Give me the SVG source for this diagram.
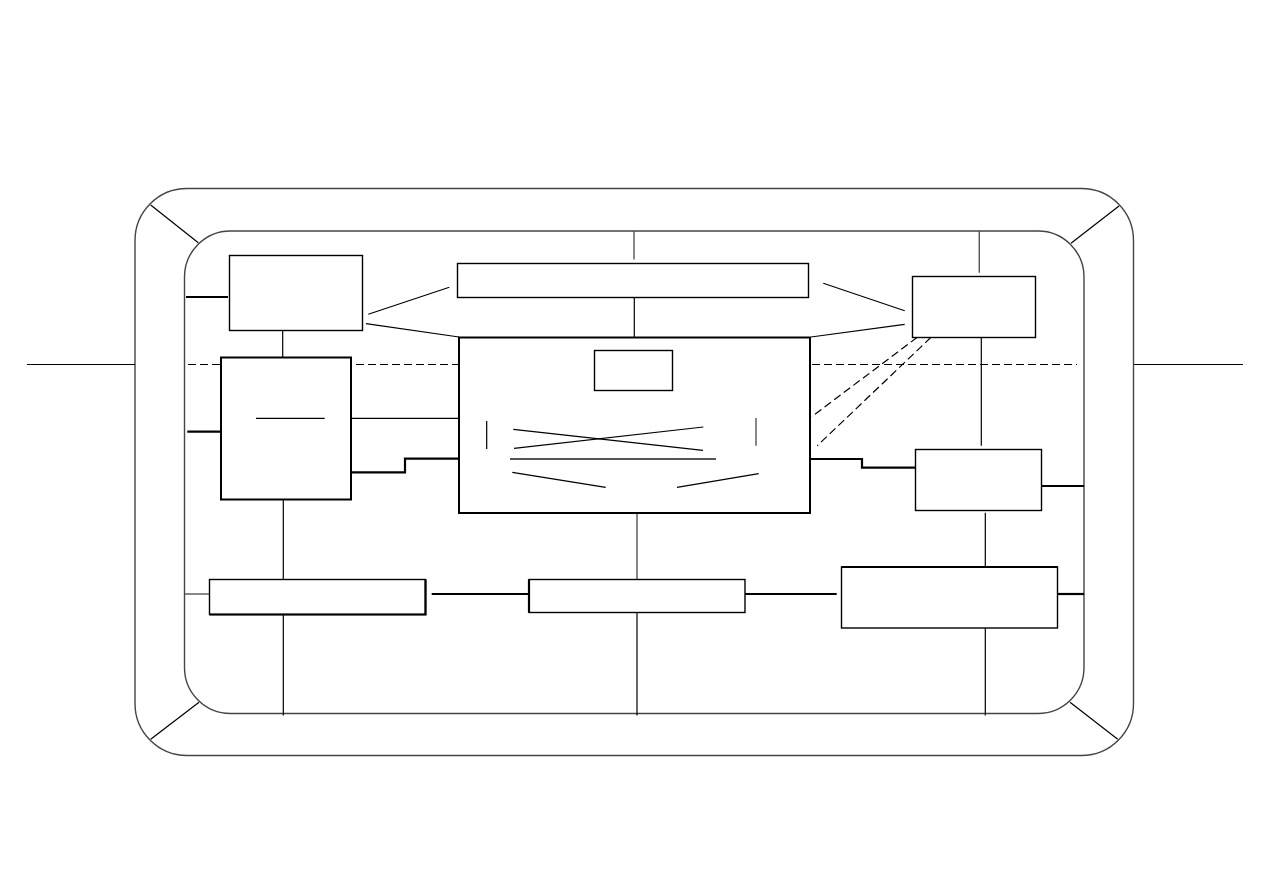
<svg xmlns="http://www.w3.org/2000/svg" width="1263" height="893" viewBox="0 0 1263 893">
<style>
.frame{fill:none;stroke:#444;stroke-width:1.4}
.box{fill:#fff;stroke:#000;stroke-width:1.4}
.bold{fill:#fff;stroke:#000;stroke-width:2}
.ln{fill:none;stroke:#000;stroke-width:1.2}
.thk{fill:none;stroke:#000;stroke-width:2.2}
.gry{fill:none;stroke:#555;stroke-width:1.4}
.dash{fill:none;stroke:#000;stroke-width:1.2;stroke-dasharray:8,4}
</style>
<rect width="1263" height="893" fill="#fff"/>
<g id="frame">
<rect class="frame" x="135" y="188.5" width="998.5" height="567" rx="52" ry="52"/>
<rect class="frame" x="184.5" y="231" width="899.5" height="482.5" rx="46" ry="46"/>
<line class="ln" x1="150.7" y1="205" x2="198.3" y2="242.7"/>
<line class="ln" x1="1071" y1="243.3" x2="1119" y2="206"/>
<line class="ln" x1="150.7" y1="739.3" x2="199" y2="702.3"/>
<line class="ln" x1="1070" y1="702.3" x2="1117.7" y2="739.3"/>
<line class="ln" x1="27" y1="364.5" x2="135" y2="364.5"/>
<line class="ln" x1="1134" y1="364.5" x2="1243" y2="364.5"/>
</g>
<g id="connectors">
<line class="dash" x1="188" y1="364.5" x2="1077" y2="364.5"/>
<line class="gry" x1="634" y1="231" x2="634" y2="259.5"/>
<line class="ln" x1="634.3" y1="297" x2="634.3" y2="337"/>
<line class="gry" x1="979.3" y1="231" x2="979.3" y2="272.7"/>
<line class="ln" x1="981.3" y1="337" x2="981.3" y2="445.7"/>
<line class="thk" x1="186" y1="297" x2="228" y2="297"/>
<line class="ln" x1="368.3" y1="314.3" x2="449.3" y2="287.3"/>
<line class="ln" x1="366" y1="323.7" x2="459" y2="337"/>
<line class="ln" x1="823.3" y1="283.3" x2="904.7" y2="310.7"/>
<line class="ln" x1="811" y1="337" x2="904.7" y2="324.3"/>
<line class="dash" x1="917.3" y1="337.3" x2="811.7" y2="416.7"/>
<line class="dash" x1="931" y1="337.3" x2="817.3" y2="445.7"/>
<line class="ln" x1="282.7" y1="330" x2="282.7" y2="357.5"/>
<line class="thk" x1="187.3" y1="431.7" x2="221" y2="431.7"/>
<line class="ln" x1="351" y1="418.3" x2="459" y2="418.3"/>
<polyline class="thk" points="351,472.3 405,472.3 405,458.7 459,458.7"/>
<polyline class="thk" points="810,459 862,459 862,467.7 915.5,467.7"/>
<line class="thk" x1="1041" y1="486" x2="1084" y2="486"/>
<line class="ln" x1="985.3" y1="512.7" x2="985.3" y2="567"/>
<line class="ln" x1="283.3" y1="499.5" x2="283.3" y2="715.5"/>
<line class="gry" x1="637" y1="513" x2="637" y2="579.5"/>
<line class="ln" x1="637" y1="612.5" x2="637" y2="715.5"/>
<line class="ln" x1="985.3" y1="628" x2="985.3" y2="715.5"/>
<line class="gry" x1="185" y1="594" x2="212.3" y2="594"/>
<line class="thk" x1="431.7" y1="594" x2="529" y2="594"/>
<line class="thk" x1="745" y1="594" x2="836.7" y2="594"/>
<line class="thk" x1="1057.5" y1="594" x2="1084" y2="594"/>
</g>
<g id="nodeA"><rect class="box" x="229.5" y="255.5" width="133" height="75"/></g>
<g id="nodeTopBar"><rect class="box" x="457.5" y="263.5" width="351" height="34"/></g>
<g id="nodeC"><rect class="box" x="912.5" y="276.5" width="123" height="61"/></g>
<g id="nodeB">
<rect class="bold" x="221" y="357.5" width="130" height="142"/>
<line class="ln" x1="256" y1="418.3" x2="324.7" y2="418.3"/>
</g>
<g id="nodeCenter">
<rect class="bold" x="459" y="337.5" width="351" height="175.5"/>
<rect class="box" x="594.5" y="350.5" width="78" height="40"/>
<line class="ln" x1="486.7" y1="421" x2="486.7" y2="449"/>
<line class="ln" x1="513.3" y1="429.3" x2="703" y2="450.3"/>
<line class="ln" x1="514" y1="448.3" x2="703.3" y2="427"/>
<line class="gry" x1="510" y1="459" x2="716" y2="459" style="stroke-width:1.8"/>
<line class="gry" x1="756" y1="418" x2="756" y2="445.7"/>
<line class="ln" x1="512.3" y1="472.3" x2="605.7" y2="487.3"/>
<line class="ln" x1="677" y1="487.3" x2="758.7" y2="473.7"/>
</g>
<g id="nodeE"><rect class="box" x="915.5" y="449.5" width="126" height="61"/></g>
<g id="nodeD">
<rect class="box" x="209.5" y="579.5" width="216" height="35"/>
<polyline class="thk" points="209.5,614.5 425.5,614.5 425.5,579.5"/>
</g>
<g id="nodeG">
<rect class="box" x="529" y="579.5" width="216" height="33"/>
<line class="thk" x1="529" y1="579.5" x2="529" y2="612.5"/>
</g>
<g id="nodeF">
<rect class="box" x="841.5" y="567" width="216" height="61"/>
<line class="thk" x1="841.5" y1="567" x2="1057.5" y2="567"/>
</g>
</svg>
